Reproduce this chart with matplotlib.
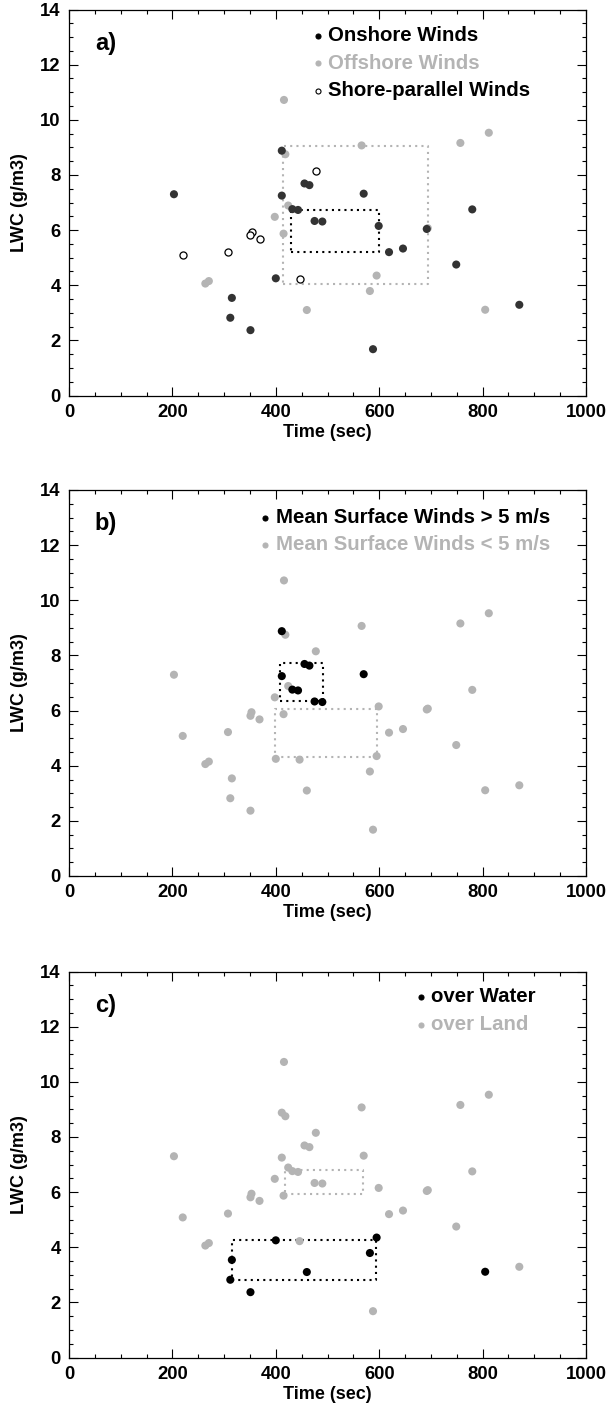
import numpy as np
import matplotlib
matplotlib.use('Agg')
import matplotlib.pyplot as plt
from matplotlib.ticker import MultipleLocator

plt.rcParams['font.family'] = ['Liberation Sans', 'DejaVu Sans']
plt.rcParams['font.weight'] = 'bold'

# time (sec) and LWC (g/m3) of each cloud sample
time_sec = [203, 411.6, 411.6, 432, 443, 455.5, 465, 475, 490, 570,
            599, 619, 646, 692, 780, 749, 871, 400, 315, 312, 351, 588,
            415.8, 566, 757, 812, 418.5, 424, 398, 415, 263.7, 270.5,
            595, 582, 460, 805, 694,
            477.4, 220, 307.5, 353, 351, 368.5, 446]
lwc = [7.30, 8.88, 7.25, 6.76, 6.73, 7.69, 7.63, 6.33, 6.31, 7.32,
       6.15, 5.20, 5.33, 6.04, 6.75, 4.75, 3.29, 4.25, 3.54, 2.82, 2.37, 1.68,
       10.72, 9.07, 9.16, 9.53, 8.75, 6.89, 6.48, 5.87, 4.06, 4.15,
       4.35, 3.79, 3.10, 3.11, 6.07,
       8.15, 5.08, 5.22, 5.94, 5.81, 5.68, 4.22]
# wind direction: 'on' onshore, 'off' offshore, 'par' shore-parallel
wind_dir = ['on'] * 22 + ['off'] * 15 + ['par'] * 7
strong_wind = [0, 1, 1, 1, 1, 1, 1, 1, 1, 1] + [0] * 34
over_water = [0] * 17 + [1, 1, 1, 1, 0] + [0] * 10 + [1, 1, 1, 1, 0] + [0] * 7

# dotted boxes (x0, x1, y0, y1)
box_a_on = (430, 599, 5.21, 6.74)
box_a_off = (414, 695, 4.04, 9.05)
box_b_hi = (409, 491, 6.33, 7.71)
box_b_lo = (399, 596, 4.33, 6.07)
box_c_land = (417, 568, 5.93, 6.81)
box_c_water = (315, 594, 2.82, 4.25)

DARK = '#333333'
GRAY = '#b4b4b4'

t = np.array(time_sec)
w = np.array(lwc)
wd = np.array(wind_dir)
sw = np.array(strong_wind) == 1
ow = np.array(over_water) == 1

W, H = 616, 1408
fig = plt.figure(figsize=(W / 100, H / 100), dpi=100)
tops = [9.5, 490, 971.5]
axes = [fig.add_axes([69 / W, 1 - (tp + 386) / H, 517 / W, 386 / H]) for tp in tops]


def setup(ax, letter):
    ax.set_xlim(0, 1000)
    ax.set_ylim(0, 14)
    ax.xaxis.set_major_locator(MultipleLocator(200))
    ax.xaxis.set_minor_locator(MultipleLocator(50))
    ax.yaxis.set_major_locator(MultipleLocator(2))
    ax.yaxis.set_minor_locator(MultipleLocator(0.5))
    ax.tick_params(which='both', direction='in', top=True, right=True, width=0.8)
    ax.tick_params(which='major', length=6.4, labelsize=13.3, pad=6)
    ax.tick_params(which='minor', length=3.2)
    for lab in ax.get_xticklabels() + ax.get_yticklabels():
        lab.set_fontweight('bold')
    for s in ax.spines.values():
        s.set_linewidth(0.9)
    ax.set_xlabel('Time (sec)', fontsize=13, fontweight='bold', labelpad=2)
    ax.set_ylabel('LWC (g/m3)', fontsize=13, fontweight='bold', labelpad=9)
    ax.text(50, 12.78, letter, fontsize=17, fontweight='bold', va='center')


def box(ax, b, color):
    x0, x1, y0, y1 = b
    ax.plot([x0, x1, x1, x0, x0], [y0, y0, y1, y1, y0], ls=(0, (1, 2)),
            lw=1.5, color=color, zorder=1)


def legend_row(ax, x, y, label, color, face=None):
    ax.scatter([x - 20], [y], s=13, color=face if face else color,
               edgecolors=color, linewidths=0.8, zorder=4)
    ax.text(x, y, label, color=color, fontsize=14.7, fontweight='bold', va='center')


# a) wind direction
ax = axes[0]
setup(ax, 'a)')
box(ax, box_a_off, GRAY)
box(ax, box_a_on, 'black')
m = wd == 'off'
ax.scatter(t[m], w[m], s=34, color=GRAY, edgecolors='none', zorder=2)
m = wd == 'on'
ax.scatter(t[m], w[m], s=34, color=DARK, edgecolors='none', zorder=3)
m = wd == 'par'
ax.scatter(t[m], w[m], s=26, facecolors='white', edgecolors='black', linewidths=0.9, zorder=3)
legend_row(ax, 501, 13.05, 'Onshore Winds', 'black')
legend_row(ax, 501, 12.05, 'Offshore Winds', GRAY)
legend_row(ax, 501, 11.05, 'Shore-parallel Winds', 'black', face='white')

# b) surface wind speed
ax = axes[1]
setup(ax, 'b)')
box(ax, box_b_lo, GRAY)
box(ax, box_b_hi, 'black')
ax.scatter(t[~sw], w[~sw], s=34, color=GRAY, edgecolors='none', zorder=2)
ax.scatter(t[sw], w[sw], s=34, color='black', edgecolors='none', zorder=3)
legend_row(ax, 400, 13.0, 'Mean Surface Winds > 5 m/s', 'black')
legend_row(ax, 400, 12.02, 'Mean Surface Winds < 5 m/s', GRAY)

# c) water vs land
ax = axes[2]
setup(ax, 'c)')
box(ax, box_c_land, GRAY)
box(ax, box_c_water, 'black')
ax.scatter(t[~ow], w[~ow], s=34, color=GRAY, edgecolors='none', zorder=2)
ax.scatter(t[ow], w[ow], s=34, color='black', edgecolors='none', zorder=3)
legend_row(ax, 700, 13.09, 'over Water', 'black')
legend_row(ax, 700, 12.07, 'over Land', GRAY)

plt.savefig('out.png', dpi=100)
